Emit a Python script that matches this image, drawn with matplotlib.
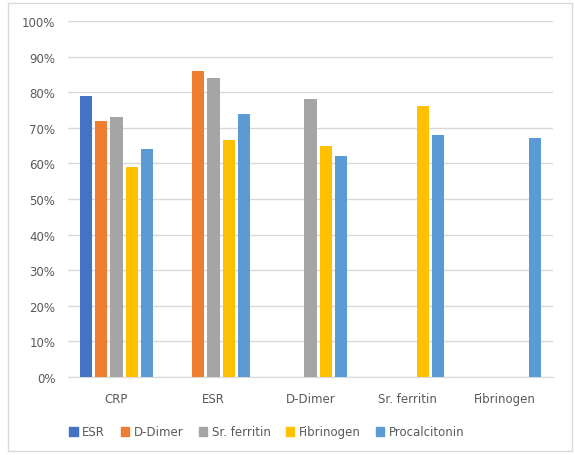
import numpy as np
import matplotlib.pyplot as plt
from matplotlib.patches import Rectangle, Patch
from matplotlib.ticker import PercentFormatter

categories = ["CRP", "ESR", "D-Dimer", "Sr. ferritin", "Fibrinogen"]
series_names = ["ESR", "D-Dimer", "Sr. ferritin", "Fibrinogen", "Procalcitonin"]
esr          = [79, np.nan, np.nan, np.nan, np.nan]
d_dimer      = [72, 86, np.nan, np.nan, np.nan]
sr_ferritin  = [73, 84, 78, np.nan, np.nan]
fibrinogen   = [59, 66.5, 65, 76, np.nan]
procalcitonin = [64, 74, 62, 68, 67]
colors = ["#4472C4", "#ED7D31", "#A5A5A5", "#FFC000", "#5B9BD5"]

all_series = [esr, d_dimer, sr_ferritin, fibrinogen, procalcitonin]
txt = "#595959"

fig = plt.figure(figsize=(5.75, 4.56), dpi=100)
fig.patches.append(Rectangle((8/575, 4/456), 564/575, 448/456, transform=fig.transFigure,
                             fill=False, edgecolor="#D9D9D9", linewidth=1))
ax = fig.add_axes([68/575, 1 - 378/456, 485/575, 356/456])

x = np.arange(len(categories))
pitch = 0.155
width = 0.124
for i, (vals, c) in enumerate(zip(all_series, colors)):
    ax.bar(x + (i - 2) * pitch, vals, width, color=c, zorder=3)

ax.set_xlim(-0.5, len(categories) - 0.5)
ax.set_ylim(0, 100)
ax.set_yticks(np.arange(0, 101, 10))
ax.yaxis.set_major_formatter(PercentFormatter(decimals=0))
ax.set_xticks(x)
ax.set_xticklabels(categories)
ax.tick_params(axis="both", length=0, labelsize=8.5, colors=txt)
ax.tick_params(axis="x", pad=11)
ax.tick_params(axis="y", pad=9)
ax.grid(axis="y", color="#D9D9D9", linewidth=1, zorder=0)
for s in ["top", "right", "left"]:
    ax.spines[s].set_visible(False)
ax.spines["bottom"].set_color("#D9D9D9")

handles = [Patch(color=c, label=n) for c, n in zip(colors, series_names)]
fig.legend(handles=handles, loc="center", bbox_to_anchor=(267/575, 1 - 433/456), ncol=5,
           frameon=False, fontsize=8.5, labelcolor=txt, handlelength=0.7, handleheight=0.7,
           handletextpad=0.4, columnspacing=1.3)

plt.savefig("out.png", dpi=100)
